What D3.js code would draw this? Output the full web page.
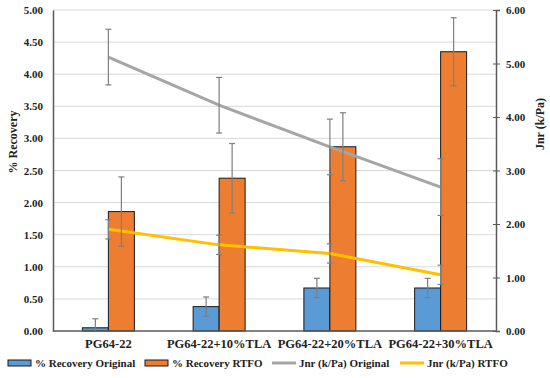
<!DOCTYPE html>
<html>
<head>
<meta charset="utf-8">
<script src="https://cdn.jsdelivr.net/npm/d3@7"></script>
<style>
  body { margin: 0; background: #fff; }
  text { font-family: "Liberation Serif", "Times New Roman", serif; font-weight: bold; }
</style>
</head>
<body>
<svg id="chart" width="550" height="378"></svg>
<script>
var categories = ["PG64-22", "PG64-22+10%TLA", "PG64-22+20%TLA", "PG64-22+30%TLA"];
var recOriginal = [0.05, 0.38, 0.67, 0.67];
var recOriginalErr = [0.14, 0.15, 0.15, 0.15];
var recRtfo = [1.86, 2.38, 2.87, 4.35];
var recRtfoErr = [0.54, 0.54, 0.53, 0.53];
var jnrOriginal = [5.12, 4.22, 3.44, 2.69];
var jnrOriginalErr = [0.52, 0.52, 0.52, 0.53];
var jnrRtfo = [1.90, 1.61, 1.45, 1.05];
var jnrRtfoErr = [0.18, 0.18, 0.18, 0.18];
var leftTicks = [0, 0.5, 1, 1.5, 2, 2.5, 3, 3.5, 4, 4.5, 5];
var rightTicks = [0, 1, 2, 3, 4, 5, 6];

var svg = d3.select("#chart");
var margin = {left: 53, right: 54, top: 10, bottom: 47};
var W = 550, H = 378;

var x = d3.scaleBand().domain(categories).range([margin.left, W - margin.right]);
var yL = d3.scaleLinear().domain([0, 5]).range([H - margin.bottom, margin.top]);
var yR = d3.scaleLinear().domain([0, 6]).range([H - margin.bottom, margin.top]);
var barW = 26;

// gridlines
svg.append("g").selectAll("line").data(leftTicks.slice(1)).enter().append("line")
  .attr("x1", margin.left).attr("x2", W - margin.right)
  .attr("y1", function(d) { return yL(d); }).attr("y2", function(d) { return yL(d); })
  .attr("stroke", "#d9d9d9").attr("stroke-width", 1);

// left axis
var gl = svg.append("g").attr("transform", "translate(" + margin.left + ",0)")
  .call(d3.axisLeft(yL).tickValues(leftTicks).tickFormat(d3.format(".2f")).tickSize(0).tickPadding(10));
gl.select(".domain").attr("stroke", "#595959").attr("stroke-width", 1.5);
gl.selectAll("text").attr("font-size", 11).attr("fill", "#222");

// right axis
var gr = svg.append("g").attr("transform", "translate(" + (W - margin.right) + ",0)")
  .call(d3.axisRight(yR).tickValues(rightTicks).tickFormat(d3.format(".2f")).tickSize(4).tickPadding(6));
gr.select(".domain").attr("stroke", "#595959").attr("stroke-width", 1.5);
gr.selectAll(".tick line").attr("stroke", "#595959").attr("x1", -3);
gr.selectAll("text").attr("font-size", 11).attr("fill", "#222");

// bars
function cx(i) { return x(categories[i]) + x.bandwidth() / 2; }

svg.append("g").selectAll("rect").data(recOriginal).enter().append("rect")
  .attr("x", function(d, i) { return cx(i) - barW; })
  .attr("y", function(d) { return yL(d); })
  .attr("width", barW)
  .attr("height", function(d) { return yL(0) - yL(d); })
  .attr("fill", "#5b9bd5").attr("stroke", "#1a1a1a").attr("stroke-width", 1);

svg.append("g").selectAll("rect").data(recRtfo).enter().append("rect")
  .attr("x", function(d, i) { return cx(i); })
  .attr("y", function(d) { return yL(d); })
  .attr("width", barW)
  .attr("height", function(d) { return yL(0) - yL(d); })
  .attr("fill", "#ed7d31").attr("stroke", "#1a1a1a").attr("stroke-width", 1);

// x axis line
svg.append("line")
  .attr("x1", margin.left).attr("x2", W - margin.right)
  .attr("y1", yL(0)).attr("y2", yL(0))
  .attr("stroke", "#595959").attr("stroke-width", 1.5);

// lines
var line = d3.line().x(function(d, i) { return cx(i); }).y(function(d) { return yR(d); });
svg.append("path").datum(jnrOriginal).attr("d", line)
  .attr("fill", "none").attr("stroke", "#a5a5a5").attr("stroke-width", 3);
svg.append("path").datum(jnrRtfo).attr("d", line)
  .attr("fill", "none").attr("stroke", "#ffc000").attr("stroke-width", 3);

// error bars
function errBars(vals, errs, y, off) {
  var g = svg.append("g").attr("stroke", "#7f7f7f").attr("stroke-width", 1.2);
  vals.forEach(function(v, i) {
    var xc = cx(i) + off;
    var lo = Math.max(0, v - errs[i]), hi = v + errs[i];
    g.append("line").attr("x1", xc).attr("x2", xc).attr("y1", y(lo)).attr("y2", y(hi));
    g.append("line").attr("x1", xc - 3).attr("x2", xc + 3).attr("y1", y(hi)).attr("y2", y(hi));
    if (v - errs[i] > 0)
      g.append("line").attr("x1", xc - 3).attr("x2", xc + 3).attr("y1", y(lo)).attr("y2", y(lo));
  });
}
errBars(recOriginal, recOriginalErr, yL, -barW / 2);
errBars(recRtfo, recRtfoErr, yL, barW / 2);
errBars(jnrOriginal, jnrOriginalErr, yR, 0);
errBars(jnrRtfo, jnrRtfoErr, yR, 0);

// category labels
svg.append("g").selectAll("text").data(categories).enter().append("text")
  .attr("x", function(d, i) { return cx(i); })
  .attr("y", 348)
  .attr("text-anchor", "middle").attr("font-size", 12.5).attr("fill", "#222")
  .text(function(d) { return d; });

// axis titles
svg.append("text")
  .attr("transform", "translate(13,142) rotate(-90)")
  .attr("dy", "0.35em")
  .attr("text-anchor", "middle").attr("font-size", 12).attr("fill", "#222")
  .text("% Recovery");
svg.append("text")
  .attr("transform", "translate(540,124) rotate(-90)")
  .attr("dy", "0.35em")
  .attr("text-anchor", "middle").attr("font-size", 12).attr("fill", "#222")
  .text("Jnr  (k/Pa)");

// legend
var legend = [
  {label: "% Recovery Original", type: "rect", color: "#5b9bd5", x: 8},
  {label: "% Recovery RTFO", type: "rect", color: "#ed7d31", x: 145},
  {label: "Jnr (k/Pa) Original", type: "line", color: "#a5a5a5", x: 272},
  {label: "Jnr (k/Pa) RTFO", type: "line", color: "#ffc000", x: 400}
];
var lg = svg.append("g");
legend.forEach(function(d) {
  if (d.type == "rect")
    lg.append("rect").attr("x", d.x).attr("y", 360).attr("width", 23).attr("height", 6)
      .attr("fill", d.color).attr("stroke", "#1a1a1a").attr("stroke-width", 1);
  else
    lg.append("line").attr("x1", d.x).attr("x2", d.x + 24).attr("y1", 363).attr("y2", 363)
      .attr("stroke", d.color).attr("stroke-width", 3);
  lg.append("text").attr("x", d.x + 27).attr("y", 367).attr("font-size", 11).attr("fill", "#222")
    .text(d.label);
});
</script>
</body>
</html>
